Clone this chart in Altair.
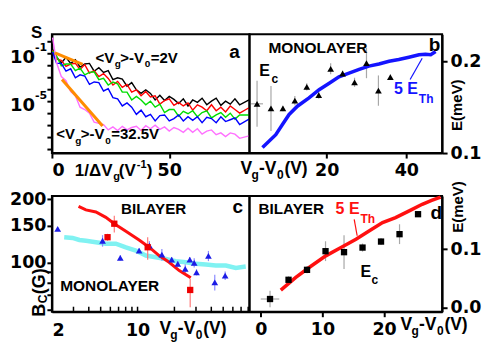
import altair as alt
import pandas as pd

FONT = "Liberation Sans"
NUMFONT = "DejaVu Sans"

# ---------------- panel a : noise spectra (log10 S) ----------------
a_x = [0.3, 2, 4, 6, 8, 10, 12, 14, 16, 18, 20, 22, 24, 26, 28, 30, 32, 34, 36, 38, 40,
       42, 44, 46, 48, 50, 52, 54, 56, 58, 60, 62, 64, 66, 68, 70, 72, 74, 76, 78, 80, 84]
a_black = [-0.7, -1.3, -1.82, -1.35, -1.85, -1.55, -2.15, -1.9, -1.85, -2.5, -2.21, -2.6, -2.45, -3.2,
           -3.05, -3.15, -3.75, -3.45, -4.05, -4.35, -4.05, -4.35, -4.9, -4.5, -4.95, -4.6, -4.85,
           -5.2, -4.8, -5.4, -4.9, -5.1, -4.75, -5.3, -5.0, -4.75, -5.35, -5.0, -5.25, -4.8, -5.3, -4.9]
a_red = [-0.75, -1.5, -1.6, -2.1, -1.9, -1.85, -2.35, -1.95, -2.65, -2.45, -2.95, -2.7, -3.1, -3.65,
         -3.35, -3.85, -3.6, -4.25, -4.05, -4.55, -4.2, -4.65, -4.55, -5.25, -4.95, -4.8, -5.35,
         -5.1, -5.4, -5.15, -5.75, -5.3, -5.5, -5.8, -5.3, -5.8, -5.5, -5.9, -5.4, -5.7, -6.0, -5.55]
a_green = [-0.8, -1.25, -2.05, -1.9, -1.9, -2.45, -2.25, -2.8, -2.6, -2.55, -3.2, -3.1, -3.65, -3.4,
           -3.55, -4.25, -4.25, -4.9, -4.6, -4.9, -5.3, -5.0, -5.5, -5.25, -5.95, -5.7, -5.7,
           -6.25, -5.85, -6.05, -5.8, -6.3, -5.95, -5.8, -6.4, -6.15, -5.95, -6.35, -6.0, -6.5, -6.15, -6.15]
a_blue = [-0.9, -1.85, -1.85, -2.5, -2.3, -3.05, -2.8, -2.9, -3.6, -3.4, -3.45, -4.15, -3.95, -4.7,
          -4.8, -5.4, -5.15, -5.5, -6.1, -5.75, -6.3, -6.1, -6.65, -6.2, -6.15, -6.65, -6.45,
          -6.15, -6.65, -6.3, -6.6, -6.3, -6.8, -6.35, -6.45, -6.8, -6.3, -6.7, -6.55, -6.4, -6.95, -6.5]
a_magenta = [0.3, -1.8, -2.95, -3.3, -4.2, -4.55, -5.5, -5.7, -6.0, -6.75, -6.85, -6.95, -7.4, -7.15,
             -7.45, -7.1, -7.4, -7.2, -7.1, -7.45, -7.05, -7.3, -7.0, -7.35, -7.15, -7.5, -7.2,
             -7.35, -7.6, -7.25, -7.6, -7.3, -7.75, -7.5, -7.4, -7.8, -7.65, -7.95, -7.65, -7.75, -8.1, -7.9]
a_series = ["magenta", "blue", "green", "red", "black"]
a_colors = ["#ff70ff", "#0000ff", "#00dd00", "#ff0000", "#000000"]
a_orange_x = [1.3, 13.1, 4.3, 21.6]
a_orange_y = [-0.97, -1.94, -3.19, -7.08]
a_orange_seg = ["u", "u", "l", "l"]
a_yticks = [-9, -8, -7, -6, -5, -4, -3, -2, -1, 0]
a_xticks = [0, 50]

# ---------------- panel b : monolayer energies ----------------
b_tri_x = [2.5, 6, 9, 12, 15, 18, 21, 24, 27, 30, 33, 36]
b_tri_y = [0.1536, 0.1486, 0.1486, 0.157, 0.172, 0.163, 0.1917, 0.1866, 0.177, 0.198, 0.168, 0.1826]
b_tri_err = [0.025, 0.0245, 0.003, 0.005, 0.004, 0.004, 0.006, 0.003, 0.005, 0.0165, 0.0165, 0.003]
b_xerr = [1.5]
b_line_x = [3.86, 7.21, 8.88, 10.56, 12.64, 15.56, 18.1, 20.64, 23.08, 25.62, 28.16, 30.6, 33.14,
            35.68, 38.12, 40.66, 43.2, 44.83, 46.15, 47.37]
b_line_y = [0.106, 0.120, 0.131, 0.142, 0.151, 0.160, 0.169, 0.176, 0.183, 0.187, 0.191, 0.1946,
            0.197, 0.200, 0.2018, 0.2043, 0.207, 0.2076, 0.207, 0.2105]
b_arrow_x = [40.97, 44.0]
b_arrow_y = [0.180, 0.2033]

# ---------------- panel c : Bc vs Vg-V0 (log-log) ----------------
c_tri_x = [2.23, 5.18, 7.23, 10.3, 12.5, 15.8, 19.0, 21.3, 24.5, 26.7, 29.0, 30.3, 37.9, 42.7, 51.9]
c_tri_y = [144.7, 127, 105.3, 114, 120.5, 109, 103.3, 98.6, 93.3, 103.3, 99.7, 89.9, 107.6, 80.6, 86.7]
c_tri_err = [2, 8, 3, 3, 6, 7, 3, 3, 5, 3, 5, 3, 6, 7, 4]
c_sq_x = [5.69, 6.46, 12.1, 26.9]
c_sq_y = [132, 153, 118.3, 74.1]
c_sq_lo = [127, 139, 103, 61.3]
c_sq_hi = [137, 167, 132, 83.6]
c_cyan_x = [2.52, 2.95, 3.35, 3.79, 4.57, 5.51, 6.65, 8.03, 9.68, 11.7, 14.1, 17.0, 20.5, 24.8,
            29.9, 36.1, 43.5, 52.5, 63.4, 76.4]
c_cyan_y = [132, 131, 128, 127, 125, 123, 123, 118, 114, 108, 106, 104, 101.4, 100.3, 98.6, 97.8,
            96.8, 96.8, 94.3, 95.7]
c_red_x = [3.3, 3.79, 4.57, 5.51, 6.46, 8.03, 10.3, 12.5, 15.0, 18.1, 21.9, 27.2]
c_red_y = [185, 178, 174, 164, 153, 141, 128, 118, 108, 100.3, 91.6, 84.6]
c_xticks = [2, 3, 4, 5, 6, 7, 8, 9, 10, 20, 30, 40, 50, 60, 70, 80]
c_yticks = [60, 70, 80, 90, 100, 150, 200]

# ---------------- panel d : bilayer energies ----------------
d_sq_x = [1.5, 4.5, 7.5, 10.5, 13.5, 16.5, 19.5, 22.5, 25.5]
d_sq_y = [0.0144, 0.0474, 0.0645, 0.0965, 0.0948, 0.1027, 0.113, 0.1257, 0.160]
d_sq_err = [0.014, 0.006, 0.006, 0.017, 0.029, 0.007, 0.006, 0.017, 0.004]
d_xerr = [1.5]
d_line_x = [3.25, 5.68, 7.84, 10.54, 13.23, 15.44, 17.55, 19.75, 21.86, 24.07, 26.18, 27.81, 29.16]
d_line_y = [0.0298, 0.0514, 0.0685, 0.0885, 0.104, 0.117, 0.131, 0.1455, 0.154, 0.1656, 0.177,
            0.184, 0.1895]
d_arrow_x = [15.15, 15.63]
d_arrow_y = [0.151, 0.123]


def txt(s, x, y, size, color="black", angle=0, align="left", baseline="alphabetic", font=FONT):
    return alt.Chart(pd.DataFrame({"t": [s]})).mark_text(
        align=align, baseline=baseline, font=font, fontSize=size, fontWeight="bold",
        color=color, angle=angle
    ).encode(x=alt.value(x), y=alt.value(y), text="t:N")


def vlabel(x, y):
    # "V_g-V_0(V)" built from pieces
    return [
        txt("V", x, y, 17.5),
        txt("g", x + 11, y + 5, 12),
        txt("-V", x + 18.5, y, 17.5),
        txt("0", x + 36.5, y + 5, 12),
        txt("(V)", x + 44, y, 17.5),
    ]


# ---------------- build panel a ----------------
WA, HA = 198, 119
ax_a = alt.Axis(values=a_xticks, tickSize=5, labelPadding=4, format="d")
ay_a = alt.Axis(values=a_yticks, labels=False, tickSize=5)
xs_a = alt.Scale(domain=[0, 84.2], nice=False, zero=False)
ys_a = alt.Scale(domain=[-9.33, 0.58], nice=False, zero=False)

rows = []
for name, vals in zip(["black", "red", "green", "blue", "magenta"],
                      [a_black, a_red, a_green, a_blue, a_magenta]):
    for xv, yv in zip(a_x, vals):
        rows.append({"x": xv, "y": yv, "s": name})
dfa = pd.DataFrame(rows)

lines_a = alt.Chart(dfa).mark_line(strokeWidth=1.4, clip=True).encode(
    x=alt.X("x:Q", scale=xs_a, axis=ax_a, title=None),
    y=alt.Y("y:Q", scale=ys_a, axis=ay_a, title=None),
    color=alt.Color("s:N", scale=alt.Scale(domain=a_series, range=a_colors), legend=None),
    order=alt.Order("x:Q"),
)
orange = alt.Chart(pd.DataFrame({"x": a_orange_x, "y": a_orange_y, "g": a_orange_seg})).mark_line(
    color="#ff8c00", strokeWidth=3
).encode(x=alt.X("x:Q", scale=xs_a, axis=ax_a, title=None),
         y=alt.Y("y:Q", scale=ys_a, axis=ay_a, title=None), detail="g:N")

texts_a = [
    txt("S", -21, 4, 17),
    txt("10", -17, 29, 18, align="right", font=NUMFONT),
    txt("-1", -17, 17, 11, font=NUMFONT),
    txt("10", -17, 77, 18, align="right", font=NUMFONT),
    txt("-5", -17, 65, 11, font=NUMFONT),
    txt("<V", 43.7, 28.7, 15), txt("g", 63, 32.5, 10), txt(">-V", 68.5, 28.7, 15),
    txt("0", 93, 32.5, 10), txt("=2V", 99, 28.7, 15),
    txt("<V", 4.3, 105.3, 15), txt("g", 23.5, 109.5, 10), txt(">-V", 29, 105.3, 15),
    txt("0", 53.5, 109.5, 10), txt("=32.5V", 59.5, 105.3, 15),
    txt("a", 177.7, 23.7, 19),
    txt("1/ΔV", 23, 142, 17), txt("g", 61.5, 146, 11), txt("(V", 67, 142, 17),
    txt("-1", 85, 134, 11), txt(")", 95, 142, 17),
]
pa = alt.layer(lines_a, orange, *texts_a).properties(width=WA, height=HA)

# ---------------- build panel b ----------------
WB = 193
xs_b = alt.Scale(domain=[0.6, 49.0], nice=False, zero=False)
ys_b = alt.Scale(domain=[0.1, 0.2293], nice=False, zero=False)
ax_b = alt.Axis(values=[20, 40], tickSize=5, labelPadding=4, format="d")
ay_b = alt.Axis(values=[0.1, 0.2], orient="right", tickSize=5, labelPadding=3, format=".1f")
dfb = pd.DataFrame({"x": b_tri_x, "y": b_tri_y, "e": b_tri_err})
dfb["lo"] = dfb["y"] - dfb["e"]
dfb["hi"] = dfb["y"] + dfb["e"]
dfbx = pd.DataFrame({"y": [b_tri_y[0]], "xlo": [b_tri_x[0] - b_xerr[0]], "xhi": [b_tri_x[0] + b_xerr[0]]})
X_b = lambda f: alt.X(f, scale=xs_b, axis=ax_b, title=None)
Y_b = lambda f: alt.Y(f, scale=ys_b, axis=ay_b, title=None)
err_b = alt.Chart(dfb).mark_rule(color="#a8a8a8", strokeWidth=1.2).encode(
    x=X_b("x:Q"), y=Y_b("lo:Q"), y2="hi:Q")
errx_b = alt.Chart(dfbx).mark_rule(color="#a8a8a8", strokeWidth=1.2).encode(
    x=X_b("xlo:Q"), x2="xhi:Q", y=Y_b("y:Q"))
line_b = alt.Chart(pd.DataFrame({"x": b_line_x, "y": b_line_y})).mark_line(
    color="#1414ff", strokeWidth=3.5).encode(x=X_b("x:Q"), y=Y_b("y:Q"))
arrow_b = alt.Chart(pd.DataFrame({"x": b_arrow_x, "y": b_arrow_y})).mark_line(
    color="#1414ff", strokeWidth=1.2).encode(x=X_b("x:Q"), y=Y_b("y:Q"))
pts_b = alt.Chart(dfb).mark_point(shape="triangle-up", filled=True, size=45, color="black", opacity=1).encode(
    x=X_b("x:Q"), y=Y_b("y:Q"))
texts_b = [
    txt("MONOLAYER", 19, 18.7, 15.5),
    txt("b", 179.7, 17, 19),
    txt("E", 9.7, 42, 16), txt("c", 22, 48.7, 12),
    txt("5 E", 144.7, 60.3, 16, color="#1414ff"), txt("Th", 169.7, 68.7, 12, color="#1414ff"),
    txt("E(meV)", 208, 71, 15, angle=270, align="center", baseline="middle"),
] + vlabel(-9, 140)
pb = alt.layer(err_b, errx_b, line_b, arrow_b, pts_b, *texts_b).properties(width=WB, height=HA)

# ---------------- build panel c ----------------
HC = 116
xs_c = alt.Scale(type="log", domain=[2, 82], nice=False)
ys_c = alt.Scale(type="log", domain=[58.4, 207.3], nice=False)
ax_c = alt.Axis(values=[2, 10], ticks=False, tickSize=0, labelPadding=10, format="d")
ay_c = alt.Axis(values=c_yticks, tickSize=5, labelPadding=1, format="d",
                labelExpr="datum.value >= 100 ? datum.label : ''")
dfc = pd.DataFrame({"x": c_tri_x, "y": c_tri_y, "e": c_tri_err})
dfc["lo"] = dfc["y"] - dfc["e"]
dfc["hi"] = dfc["y"] + dfc["e"]
dfcs = pd.DataFrame({"x": c_sq_x, "y": c_sq_y, "lo": c_sq_lo, "hi": c_sq_hi})
X_c = lambda f: alt.X(f, scale=xs_c, axis=ax_c, title=None)
Y_c = lambda f: alt.Y(f, scale=ys_c, axis=ay_c, title=None)
ticks_c = alt.Chart(pd.DataFrame({"v": c_xticks})).mark_rule(color="black", strokeWidth=1.5).encode(
    x=X_c("v:Q"), y=alt.value(HC), y2=alt.value(HC - 5))
cyan_c = alt.Chart(pd.DataFrame({"x": c_cyan_x, "y": c_cyan_y})).mark_line(
    color="#80f2f2", strokeWidth=4.5).encode(x=X_c("x:Q"), y=Y_c("y:Q"))
errt_c = alt.Chart(dfc).mark_rule(color="#8c8cff", strokeWidth=1.2).encode(
    x=X_c("x:Q"), y=Y_c("lo:Q"), y2="hi:Q")
errs_c = alt.Chart(dfcs).mark_rule(color="#ff7a7a", strokeWidth=1.2).encode(
    x=X_c("x:Q"), y=Y_c("lo:Q"), y2="hi:Q")
red_c = alt.Chart(pd.DataFrame({"x": c_red_x, "y": c_red_y})).mark_line(
    color="#ff1010", strokeWidth=3).encode(x=X_c("x:Q"), y=Y_c("y:Q"))
tri_c = alt.Chart(dfc).mark_point(shape="triangle-up", filled=True, size=45, color="#1c1ce6", opacity=1).encode(
    x=X_c("x:Q"), y=Y_c("y:Q"))
sq_c = alt.Chart(dfcs).mark_point(shape="square", filled=True, size=40, color="#ee0000", opacity=1).encode(
    x=X_c("x:Q"), y=Y_c("y:Q"))
texts_c = [
    txt("BILAYER", 69.3, 18.3, 15.2),
    txt("c", 181, 16.7, 19),
    txt("MONOLAYER", 8.3, 95, 15.5),
    txt("B", -7.3, 121, 18, angle=270),
    txt("C", -5.3, 107.5, 12, angle=270),
    txt("(G)", -7.3, 98.5, 18, angle=270),
] + vlabel(107.7, 138.3)
pc = alt.layer(ticks_c, cyan_c, errt_c, errs_c, red_c, tri_c, sq_c, *texts_c).properties(width=WA, height=HC)

# ---------------- build panel d ----------------
xs_d = alt.Scale(domain=[-1.83, 29.4], nice=False, zero=False)
ys_d = alt.Scale(domain=[-0.0074, 0.1913], nice=False, zero=False)
ax_d = alt.Axis(values=[0, 10, 20], tickSize=5, labelPadding=4, format="d")
ay_d = alt.Axis(values=[0.0, 0.1], orient="right", tickSize=5, labelPadding=3, format=".1f")
X_d = lambda f: alt.X(f, scale=xs_d, axis=ax_d, title=None)
Y_d = lambda f: alt.Y(f, scale=ys_d, axis=ay_d, title=None)
dfd = pd.DataFrame({"x": d_sq_x, "y": d_sq_y, "e": d_sq_err})
dfd["lo"] = dfd["y"] - dfd["e"]
dfd["hi"] = dfd["y"] + dfd["e"]
dfdx = pd.DataFrame({"y": [d_sq_y[0]], "xlo": [d_sq_x[0] - d_xerr[0]], "xhi": [d_sq_x[0] + d_xerr[0]]})
err_d = alt.Chart(dfd).mark_rule(color="#a8a8a8", strokeWidth=1.2).encode(
    x=X_d("x:Q"), y=Y_d("lo:Q"), y2="hi:Q")
errx_d = alt.Chart(dfdx).mark_rule(color="#a8a8a8", strokeWidth=1.2).encode(
    x=X_d("xlo:Q"), x2="xhi:Q", y=Y_d("y:Q"))
line_d = alt.Chart(pd.DataFrame({"x": d_line_x, "y": d_line_y})).mark_line(
    color="#ff1010", strokeWidth=3.5).encode(x=X_d("x:Q"), y=Y_d("y:Q"))
arrow_d = alt.Chart(pd.DataFrame({"x": d_arrow_x, "y": d_arrow_y})).mark_line(
    color="#ff1010", strokeWidth=1.2).encode(x=X_d("x:Q"), y=Y_d("y:Q"))
sq_d = alt.Chart(dfd).mark_point(shape="square", filled=True, size=40, color="black", opacity=1).encode(
    x=X_d("x:Q"), y=Y_d("y:Q"))
texts_d = [
    txt("BILAYER", 9, 18.3, 15.3),
    txt("5 E", 86.3, 18.3, 16, color="#ff1010"), txt("Th", 111.3, 26.7, 12, color="#ff1010"),
    txt("d", 181.3, 23.3, 19),
    txt("E", 111.3, 81.7, 16), txt("c", 122.3, 88.3, 12),
    txt("E(meV)", 209, 11, 15, angle=270, align="center", baseline="middle"),
] + vlabel(151.3, 134.5)
pdd = alt.layer(err_d, errx_d, line_d, arrow_d, sq_d, *texts_d).properties(width=WB, height=HC)

chart = alt.concat(pa, pb, pc, pdd, columns=2, spacing={"row": 43, "column": 0}, bounds="flush").properties(
    padding={"left": 0, "top": 15, "right": 0, "bottom": 0}
).configure_view(stroke="black", strokeWidth=2).configure_axis(
    domainColor="black", domainWidth=2, tickColor="black", tickWidth=2,
    labelFont=NUMFONT, labelFontWeight="bold", labelFontSize=17.5, labelColor="black", grid=False
)

chart.save("out.html", embed_options={"renderer": "svg", "actions": False})
